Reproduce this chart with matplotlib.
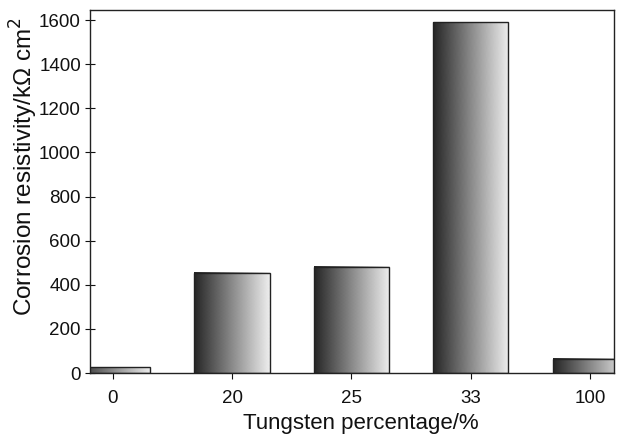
import numpy as np
import matplotlib
matplotlib.use("Agg")
import matplotlib.pyplot as plt

categories = ["0", "20", "25", "33", "100"]
values = [27, 455, 482, 1591, 65]

plt.rcParams['font.family'] = ['Liberation Sans', 'DejaVu Sans']

W, H = 626, 443
fig = plt.figure(figsize=(W / 100, H / 100), dpi=100)
ax = fig.add_axes([90/W, 70/H, (614-90)/W, (373-9.5)/H])

XLIM = (-0.19, 4.2)
x = np.arange(len(categories))
width = 0.63
bars = ax.bar(x, values, width=width, color='none', edgecolor='#222222', linewidth=1.0, zorder=3)

# horizontal gradient fill with a slight halftone texture
ny, nx = 60, 120
grad = np.tile(np.linspace(0.15, 0.93, nx), (ny, 1))
yy, xx = np.mgrid[0:ny, 0:nx]
texture = ((xx + yy) % 2) * 0.06 - 0.03
img = np.clip(grad + texture, 0, 1)
for b in bars:
    x0, y0 = b.get_x(), b.get_y()
    w, h = b.get_width(), b.get_height()
    lo, hi = max(x0, XLIM[0]), min(x0 + w, XLIM[1])
    c0 = int(round((lo - x0) / w * nx))
    c1 = int(round((hi - x0) / w * nx))
    ax.imshow(img[:, c0:c1], cmap='gray', vmin=0, vmax=1, extent=[lo, hi, y0, y0 + h],
              aspect='auto', interpolation='bilinear', zorder=2)

ax.set_xlim(*XLIM)
ax.set_ylim(0, 1648)
ax.set_xticks(x)
ax.set_xticklabels(categories)
ax.set_yticks(np.arange(0, 1601, 200))
ax.tick_params(axis='x', direction='out', length=4, labelsize=13.5, pad=8, colors='#111111')
ax.tick_params(axis='y', direction='inout', length=7, labelsize=13.5, pad=3, colors='#111111')
for s in ax.spines.values():
    s.set_linewidth(1.0)
    s.set_color('#222222')

fig.text(361 / W, 1 - 429 / H, "Tungsten percentage/%", fontsize=16, color='#111111',
         ha='center', va='baseline')
fig.text(24 / W, 1 - 166.5 / H, "Corrosion resistivity/k\u03a9 cm$^2$", fontsize=17.5,
         color='#111111', rotation=90, ha='center', va='center')

fig.savefig("out.png", dpi=100)
